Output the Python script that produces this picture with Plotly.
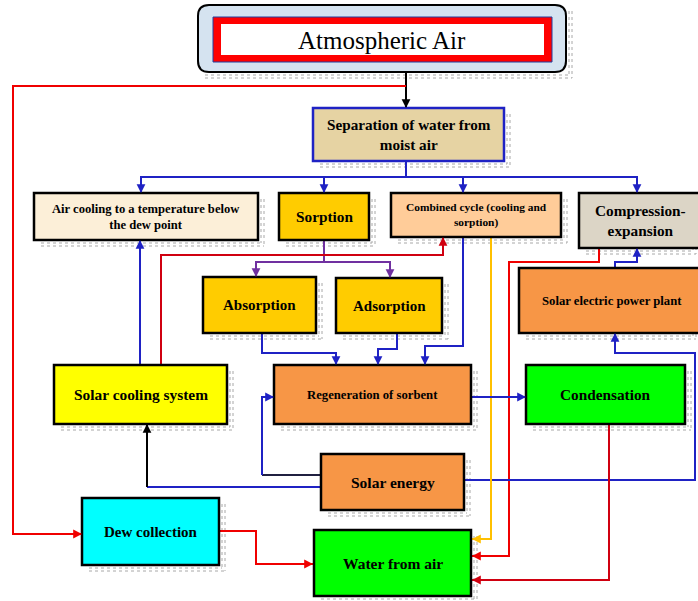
import plotly.graph_objects as go

W, H = 698, 601

# ---- content ----
title_label = "Atmospheric Air"
box_labels = [
    "Separation of water from<br>moist air",
    "Air cooling to a temperature below<br>the dew point",
    "Sorption",
    "Combined cycle (cooling and<br>sorption)",
    "Compression-<br>expansion",
    "Absorption",
    "Adsorption",
    "Solar electric power plant",
    "Solar cooling system",
    "Regeneration of sorbent",
    "Condensation",
    "Solar energy",
    "Dew collection",
    "Water from air",
]

# ---- layout of boxes: x0, y0, x1, y1, fill, font size ----
box_geom = [
    (313, 108, 504, 161, "#E6D3A3", 15.2),
    (34, 193, 258, 240, "#FCEFD8", 12.6),
    (279, 193, 369, 240, "#FFCC00", 15.3),
    (391, 193, 561, 237, "#FFCC99", 11.4),
    (579, 193, 712, 248, "#DCD5C6", 15.3),
    (203, 277, 316, 333, "#FFCC00", 15),
    (336, 278, 442, 333, "#FFCC00", 15),
    (519, 268, 712, 333, "#F79646", 12.7),
    (54, 365, 227, 424, "#FFFF00", 15.4),
    (274, 365, 471, 424, "#F79646", 12.7),
    (526, 365, 685, 424, "#00FF00", 15.3),
    (321, 454, 464, 510, "#F79646", 15.5),
    (82, 498, 219, 565, "#00FFFF", 15),
    (314, 530, 471, 596, "#00FF00", 15.5),
]
text_centers = {4: 640, 7: 612}

BLUE = "#1F22C4"
RED = "#F00000"
DRED = "#D00010"
PURPLE = "#7030A0"
GOLD = "#FFC000"
BLACK = "#000000"

# connectors: list of points, color
connectors = [
    ([(406, 72), (406, 108)], BLACK),
    ([(406, 86), (13, 86), (13, 534), (82, 534)], RED),
    ([(406, 161), (406, 177), (141, 177), (141, 193)], BLUE),
    ([(406, 177), (324, 177), (324, 193)], BLUE),
    ([(406, 177), (463, 177), (463, 193)], BLUE),
    ([(463, 177), (637, 177), (637, 193)], BLUE),
    ([(324, 240), (324, 262), (256, 262), (256, 277)], PURPLE),
    ([(324, 262), (390, 262), (390, 278)], PURPLE),
    ([(140, 365), (140, 240)], BLUE),
    ([(161, 365), (161, 255), (443, 255), (443, 237)], DRED),
    ([(599, 248), (599, 262), (509, 262), (509, 556), (472, 556)], RED),
    ([(615, 268), (615, 262), (637, 262), (637, 248)], BLUE),
    ([(464, 480), (695, 480), (695, 353), (615, 353), (615, 333)], BLUE),
    ([(262, 333), (262, 353), (336, 353), (336, 365)], BLUE),
    ([(397, 333), (397, 349), (378, 349), (378, 365)], BLUE),
    ([(463, 237), (463, 346), (425, 346), (425, 365)], BLUE),
    ([(491, 237), (491, 539), (472, 539)], GOLD),
    ([(471, 397), (526, 397)], BLUE),
    ([(609, 424), (609, 580), (472, 580)], DRED),
    ([(321, 487), (147, 487)], BLUE),
    ([(147, 487), (147, 424)], BLACK),
    ([(321, 475), (262, 475)], "#202040"),
    ([(262, 475), (262, 397), (274, 397)], BLUE),
    ([(219, 531), (256, 531), (256, 564), (313, 564)], RED),
]
# which connectors end with an arrowhead
arrow_end = [True, True, True, True, True, True, True, True, True, True, True, True,
             True, True, True, True, True, True, True, False, True, False, True, True]

fig = go.Figure()
shapes = []
annotations = []

def shadow(x0, y0, x1, y1):
    for k in (3, 6):
        shapes.append(dict(type="line", x0=x1 + k, y0=y0 + 6, x1=x1 + k, y1=y1 + k,
                           line=dict(color="#A8A8A8", width=1, dash="dot"), layer="below"))
        shapes.append(dict(type="line", x0=x0 + 7, y0=y1 + k, x1=x1 + k, y1=y1 + k,
                           line=dict(color="#A8A8A8", width=1, dash="dot"), layer="below"))

# Atmospheric Air box
ax0, ay0, ax1, ay1, r = 198, 5, 566, 72, 11
shadow(ax0, ay0, ax1, ay1)
path = (f"M {ax0+r},{ay0} L {ax1-r},{ay0} Q {ax1},{ay0} {ax1},{ay0+r} "
        f"L {ax1},{ay1-r} Q {ax1},{ay1} {ax1-r},{ay1} L {ax0+r},{ay1} "
        f"Q {ax0},{ay1} {ax0},{ay1-r} L {ax0},{ay0+r} Q {ax0},{ay0} {ax0+r},{ay0} Z")
shapes.append(dict(type="path", path=path, fillcolor="#D5E3F0",
                   line=dict(color="#000000", width=2)))
shapes.append(dict(type="rect", x0=213, y0=17, x1=552, y1=62, fillcolor="#FF0000",
                   line=dict(color="#2040A0", width=1)))
shapes.append(dict(type="rect", x0=221, y0=24, x1=544, y1=55, fillcolor="#FFFFFF",
                   line=dict(width=0)))
annotations.append(dict(x=382, y=40, text=title_label, showarrow=False,
                        font=dict(family="Liberation Serif", size=25, color="#000")))

# connector lines
for pts, col in connectors:
    d = "M " + " L ".join(f"{x},{y}" for x, y in pts)
    shapes.append(dict(type="path", path=d, line=dict(color=col, width=2), layer="above"))

for (pts, col), has_arrow in zip(connectors, arrow_end):
    if not has_arrow:
        continue
    (xa, ya), (xb, yb) = pts[-2], pts[-1]
    dx = xb - xa; dy = yb - ya
    L = max(abs(dx), abs(dy))
    s = min(L, 6)
    sx = xb - dx / L * s; sy = yb - dy / L * s
    annotations.append(dict(x=xb, y=yb, ax=sx, ay=sy, xref="x", yref="y",
                            axref="x", ayref="y", text="", showarrow=True,
                            arrowhead=2, arrowsize=1.1, arrowwidth=1.6,
                            arrowcolor=col, standoff=0, startstandoff=0))

# boxes
for i, (lab, (x0, y0, x1, y1, fill, fs)) in enumerate(zip(box_labels, box_geom)):
    shadow(x0, y0, min(x1, 690), y1)
    border = BLUE if i == 0 else "#000000"
    shapes.append(dict(type="rect", x0=x0, y0=y0, x1=x1, y1=y1, fillcolor=fill,
                       line=dict(color=border, width=2.5), layer="above"))
    cx = text_centers.get(i, (x0 + x1) / 2)
    annotations.append(dict(x=cx, y=(y0 + y1) / 2, text=f"<b>{lab}</b>", showarrow=False,
                            font=dict(family="Liberation Serif", size=fs, color="#000")))

fig.update_layout(
    width=W, height=H, margin=dict(l=0, r=0, t=0, b=0),
    plot_bgcolor="white", paper_bgcolor="white",
    xaxis=dict(range=[0, W], visible=False, fixedrange=True),
    yaxis=dict(range=[H, 0], visible=False, fixedrange=True),
    shapes=shapes, annotations=annotations, showlegend=False,
)
fig.write_html(
    "out.html",
    config={"displayModeBar": False},
    post_script="document.body.style.margin='0';document.documentElement.style.overflow='hidden';document.body.style.overflow='hidden';",
)
